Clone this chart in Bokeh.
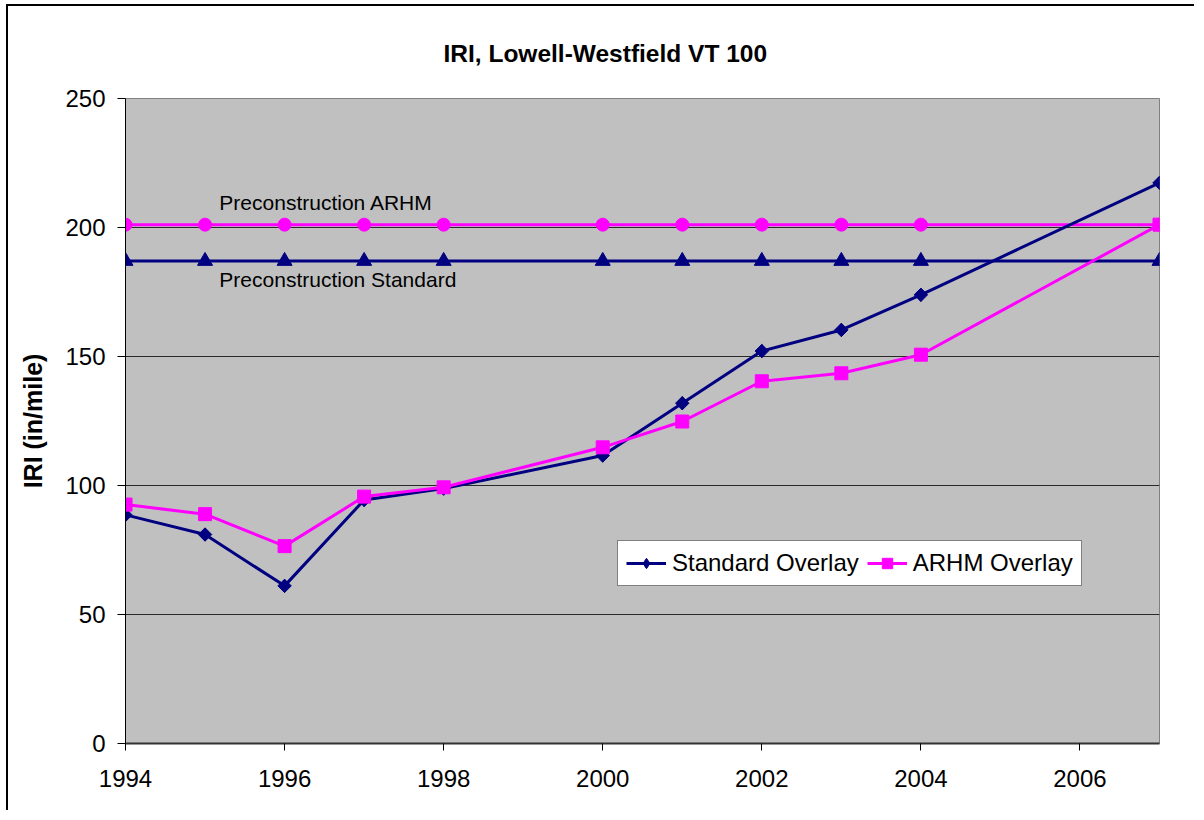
from bokeh.plotting import figure
from bokeh.models import FixedTicker, Legend, LegendItem, Range1d, Label
from bokeh.embed import file_html
from bokeh.resources import INLINE
from bokeh.core.properties import value
import numpy as np

# ---- data ----
years = [1994, 1995, 1996, 1997, 1998, 2000, 2001, 2002, 2003, 2004, 2007]
standard_overlay = [88.6, 81.0, 61.1, 94.4, 98.8, 111.6, 131.9, 152.1, 160.3, 173.9, 217.3]
arhm_overlay = [92.6, 88.9, 76.5, 95.7, 99.3, 114.8, 124.8, 140.4, 143.5, 150.7, 201.1]
precon_arhm = [201.1, 201.1, 201.1, 201.1, 201.1, 201.1, 201.1, 201.1, 201.1, 201.1, 201.1]
precon_standard = [187.0, 187.0, 187.0, 187.0, 187.0, 187.0, 187.0, 187.0, 187.0, 187.0, 187.0]
x_ticks = [1994, 1996, 1998, 2000, 2002, 2004, 2006]
y_ticks = [0, 50, 100, 150, 200, 250]
grid_ticks = [50, 100, 150, 200]
title_text = "IRI, Lowell-Westfield VT 100"
y_label = "IRI (in/mile)"
series_names = ["Standard Overlay", "ARHM Overlay"]
note_texts = ["Preconstruction ARHM", "Preconstruction Standard"]

FONT = "Liberation Sans"
NAVY = "#000080"
MAGENTA = "#FF00FF"

p = figure(width=1188, height=806, output_backend="svg", toolbar_location=None,
           x_range=Range1d(1994, 2007), y_range=Range1d(0, 250),
           min_border_left=117, min_border_right=37, min_border_top=92, min_border_bottom=69)
p.styles = {"border-left": "2px solid black", "border-top": "2px solid black",
            "margin-left": "6px", "margin-top": "4px"}

p.background_fill_color = "#C0C0C0"
p.border_fill_color = "white"
p.outline_line_color = "#808080"
p.outline_line_width = 1

# title
p.title.text = title_text
p.title.text_font = FONT
p.title.text_font_size = "24.5px"
p.title.text_font_style = "bold"
p.title.text_color = "black"
p.title.align = "left"
p.title.offset = 318
p.title.standoff = 63

# axes
xa = p.xaxis[0]
xa.ticker = FixedTicker(ticks=x_ticks)
xa.major_label_text_font = FONT
xa.major_label_text_font_size = "24px"
xa.major_label_text_color = "black"
xa.major_label_standoff = 19
xa.major_tick_out = 7
xa.major_tick_in = 0
xa.minor_tick_out = 0
xa.minor_tick_in = 0
xa.axis_line_color = "#333333"
xa.axis_line_width = 2
xa.major_tick_line_color = "black"

ya = p.yaxis[0]
ya.ticker = FixedTicker(ticks=y_ticks)
ya.major_label_text_font = FONT
ya.major_label_text_font_size = "24px"
ya.major_label_text_color = "black"
ya.major_label_standoff = 12
ya.major_tick_out = 8
ya.major_tick_in = 0
ya.minor_tick_out = 0
ya.minor_tick_in = 0
ya.axis_line_color = "black"
ya.axis_line_width = 1
ya.axis_label = y_label
ya.axis_label_text_font = FONT
ya.axis_label_text_font_size = "25px"
ya.axis_label_text_font_style = "bold"
ya.axis_label_text_color = "black"
ya.axis_label_standoff = 15

p.xgrid.visible = False
p.ygrid.ticker = FixedTicker(ticks=grid_ticks)
p.ygrid.grid_line_color = "#2a2a2a"
p.ygrid.grid_line_width = 1

# preconstruction reference series
p.line(years, precon_arhm, line_color=MAGENTA, line_width=3)
p.scatter(years, precon_arhm, marker="circle", size=13, fill_color=MAGENTA, line_color=MAGENTA)
p.line(years, precon_standard, line_color=NAVY, line_width=3)
p.scatter(years, precon_standard, marker="triangle", size=15, fill_color=NAVY, line_color=NAVY)

# overlays
l1 = p.line(years, standard_overlay, line_color=NAVY, line_width=3)
# narrow diamond (used for the legend swatch), hidden under the rotated square
d1 = p.scatter(years, standard_overlay, marker="diamond", size=13, fill_color=NAVY, line_color=NAVY)
s1 = p.scatter(years, standard_overlay, marker="square", angle=np.pi / 4, size=9.5,
               fill_color=NAVY, line_color=NAVY)
l2 = p.line(years, arhm_overlay, line_color=MAGENTA, line_width=3)
s2 = p.scatter(years, arhm_overlay, marker="square", size=13, fill_color=MAGENTA, line_color=MAGENTA)

# notes
p.add_layout(Label(x=1995.18, y=209.7, text=note_texts[0], text_font=FONT,
                   text_font_size="21px", text_baseline="middle", text_color="black"))
p.add_layout(Label(x=1995.18, y=179.8, text=note_texts[1], text_font=FONT,
                   text_font_size="21px", text_baseline="middle", text_color="black"))

legend = Legend(items=[LegendItem(label=series_names[0], renderers=[l1, d1]),
                       LegendItem(label=series_names[1], renderers=[l2, s2])],
                orientation="horizontal", location=(492, 157),
                label_text_font=FONT, label_text_font_size="24px", label_text_color="black",
                glyph_width=40, glyph_height=26, label_height=28, label_standoff=6,
                spacing=8, padding=8, margin=0,
                border_line_color="black", border_line_width=1,
                background_fill_color="white", background_fill_alpha=1.0)
p.add_layout(legend, "center")

open("out.html", "w").write(file_html(p, INLINE))
